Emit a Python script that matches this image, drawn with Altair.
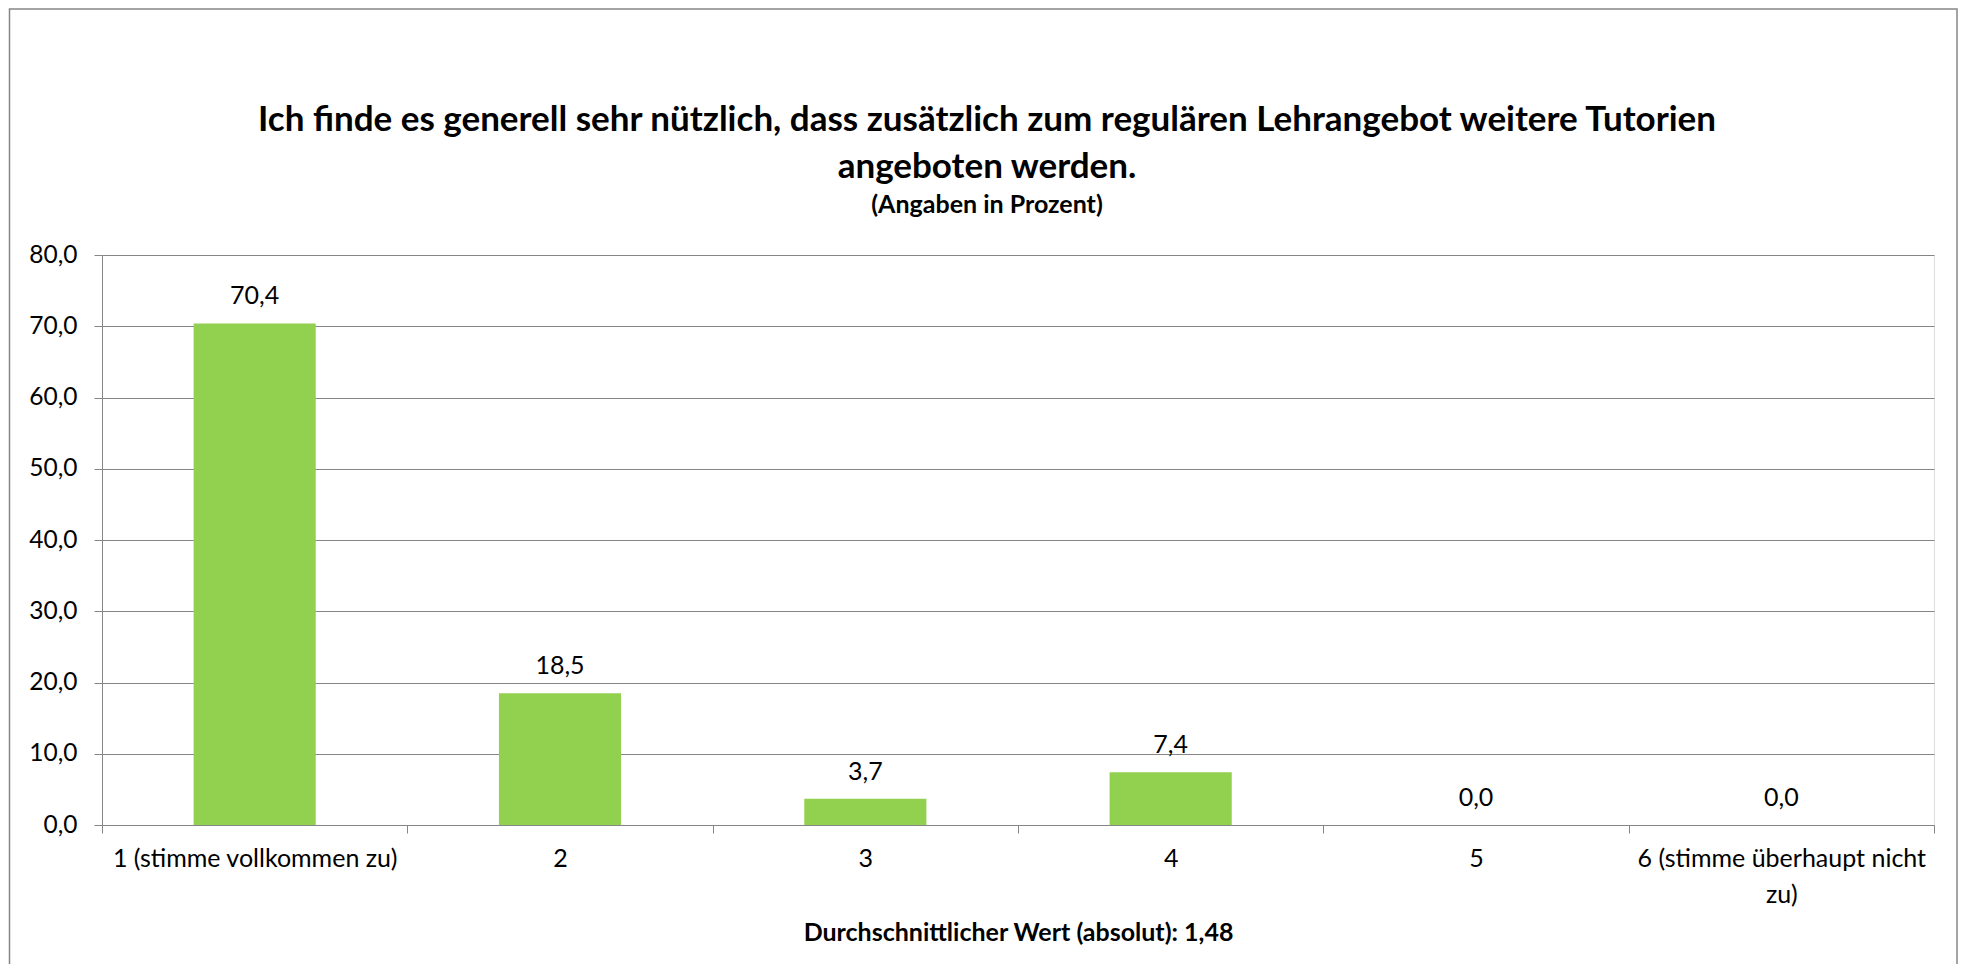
import altair as alt
import pandas as pd

categories = ["1 (stimme vollkommen zu)", "2", "3", "4", "5", "6 (stimme überhaupt nicht zu)"]
values = [70.4, 18.5, 3.7, 7.4, 0.0, 0.0]
y_ticks = [0, 10, 20, 30, 40, 50, 60, 70, 80]
title_lines = ["Ich finde es generell sehr nützlich, dass zusätzlich zum regulären Lehrangebot weitere Tutorien",
               "angeboten werden."]
subtitle = "(Angaben in Prozent)"
x_title = "Durchschnittlicher Wert (absolut): 1,48"

df = pd.DataFrame({"cat": categories, "val": values})

FONT = "Lato"
GRID = "#868686"
BAR = "#92D050"

x_enc = alt.X(
    "cat:N", sort=categories, title=x_title,
    scale=alt.Scale(paddingInner=0, paddingOuter=0),
    axis=alt.Axis(
        labelAngle=0, tickBand="extent", domainColor=GRID, tickColor=GRID,
        tickSize=8, labelPadding=13, labelFont=FONT, labelFontSize=25,
        labelColor="black", labelLineHeight=36,
        labelExpr="datum.label == '6 (stimme überhaupt nicht zu)' ? ['6 (stimme überhaupt nicht', 'zu)'] : datum.label",
        titleFont=FONT, titleFontSize=25, titleFontWeight="bold", titleColor="black",
        titlePadding=13, grid=False, labelLimit=400,
    ),
)
y_enc = alt.Y(
    "val:Q", title=None,
    scale=alt.Scale(domain=[0, 80], nice=False),
    axis=alt.Axis(
        values=y_ticks, grid=True, gridColor=GRID, domainColor=GRID, tickColor=GRID,
        tickSize=8, labelPadding=17, labelFont=FONT, labelFontSize=24.5, labelColor="black",
        labelExpr="replace(format(datum.value, '.1f'), '.', ',')",
    ),
)

bars = alt.Chart(df).mark_bar(color=BAR, width={"band": 0.4}).encode(x=x_enc, y=y_enc)

labels = alt.Chart(df).transform_calculate(
    lab="replace(format(datum.val, '.1f'), '.', ',')"
).mark_text(font=FONT, fontSize=25, color="black", baseline="alphabetic", dy=-19).encode(
    x=alt.X("cat:N", sort=categories),
    y=alt.Y("val:Q"),
    text="lab:N",
)

def title_text(txt, y, size):
    return alt.Chart(alt.Data(values=[{"t": txt}])).mark_text(
        font=FONT, fontSize=size, fontWeight="bold", color="black",
        baseline="alphabetic", align="center"
    ).encode(x=alt.value(885), y=alt.value(y), text="t:N")

t1 = title_text(title_lines[0], -124.3, 35)
t2 = title_text(title_lines[1], -77, 35)
t3 = title_text(subtitle, -41.7, 25)

border = alt.Chart(alt.Data(values=[{"k": 0}])).mark_rect(
    filled=False, stroke=GRID, strokeWidth=1.5, clip=False
).encode(
    x=alt.value(-92.5), x2=alt.value(1855), y=alt.value(-246), y2=alt.value(800)
)

chart = alt.layer(border, bars, labels, t1, t2, t3).properties(
    width=1832, height=570,
    autosize=alt.AutoSizeParams(type="none"),
    padding={"left": 94, "top": 247, "right": 24, "bottom": 139},
).configure_view(stroke=None).configure(background="white")

chart.save("out.html", embed_options={"renderer": "svg", "actions": False})
